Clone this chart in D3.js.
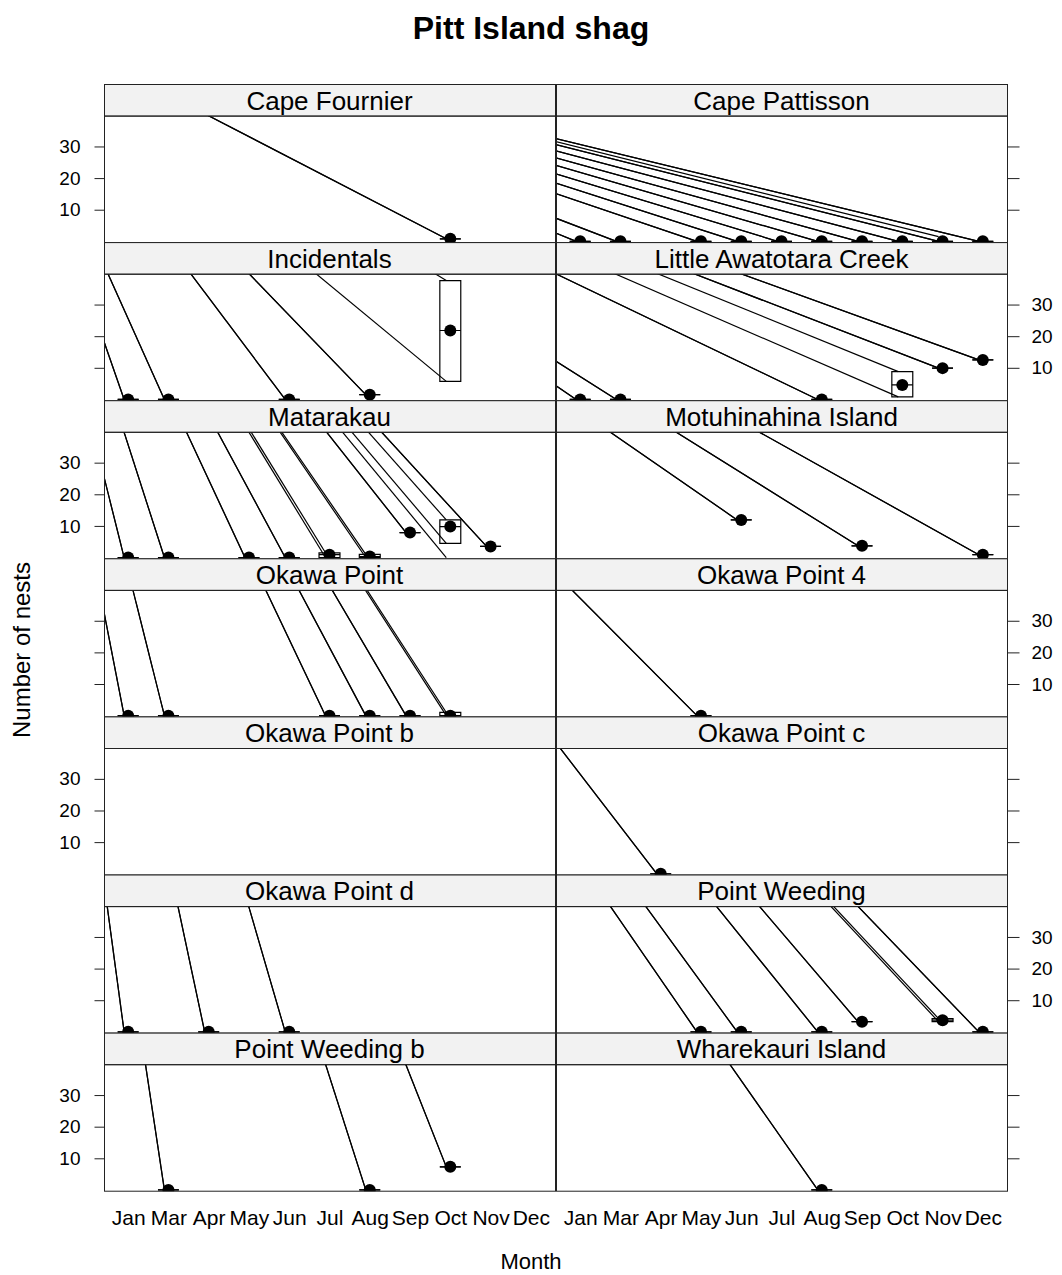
<!DOCTYPE html>
<html><head><meta charset="utf-8">
<script src="https://cdn.jsdelivr.net/npm/d3@7"></script>
<style>
body{margin:0;background:#fff}
svg{display:block}
text{font-family:"Liberation Sans",Arial,sans-serif;fill:#000}
</style>
</head><body>
<svg id="chart" width="1062" height="1275"></svg>
<script>
// ---------------- data ----------------
const months = ["Jan","Mar","Apr","May","Jun","Jul","Aug","Sep","Oct","Nov","Dec"];
const colonies = ["Cape Fournier","Cape Pattisson","Incidentals","Little Awatotara Creek",
  "Matarakau","Motuhinahina Island","Okawa Point","Okawa Point 4","Okawa Point b",
  "Okawa Point c","Okawa Point d","Point Weeding","Point Weeding b","Wharekauri Island"];
const yTicks = [10, 20, 30];

// one entry per observation (colony, month, mean nests, low, high)
const obsColony = [
  "Cape Fournier",
  "Cape Pattisson","Cape Pattisson","Cape Pattisson","Cape Pattisson","Cape Pattisson",
  "Cape Pattisson","Cape Pattisson","Cape Pattisson","Cape Pattisson","Cape Pattisson",
  "Incidentals","Incidentals","Incidentals","Incidentals","Incidentals",
  "Little Awatotara Creek","Little Awatotara Creek","Little Awatotara Creek",
  "Little Awatotara Creek","Little Awatotara Creek","Little Awatotara Creek",
  "Matarakau","Matarakau","Matarakau","Matarakau","Matarakau","Matarakau",
  "Matarakau","Matarakau","Matarakau",
  "Motuhinahina Island","Motuhinahina Island","Motuhinahina Island",
  "Okawa Point","Okawa Point","Okawa Point","Okawa Point","Okawa Point","Okawa Point",
  "Okawa Point 4",
  "Okawa Point c",
  "Okawa Point d","Okawa Point d","Okawa Point d",
  "Point Weeding","Point Weeding","Point Weeding","Point Weeding","Point Weeding","Point Weeding",
  "Point Weeding b","Point Weeding b","Point Weeding b",
  "Wharekauri Island"
];
const obsMonth = [
  "Oct",
  "Jan","Mar","May","Jun","Jul","Aug","Sep","Oct","Nov","Dec",
  "Jan","Mar","Jun","Aug","Oct",
  "Jan","Mar","Aug","Oct","Nov","Dec",
  "Jan","Mar","May","Jun","Jul","Aug","Sep","Oct","Nov",
  "Jun","Sep","Dec",
  "Jan","Mar","Jul","Aug","Sep","Oct",
  "May",
  "Apr",
  "Jan","Apr","Jun",
  "May","Jun","Aug","Sep","Nov","Dec",
  "Mar","Aug","Oct",
  "Aug"
];
const obsNests = [
  0.8,
  0,0,0,0,0,0,0,0,0,0,
  0,0,0,1.5,21.8,
  0,0,0,4.6,9.9,12.5,
  0,0,0,0,0.9,0.3,7.9,9.8,3.5,
  11.9,3.7,0.9,
  0,0,0,0,0,0,
  0,
  0,
  0,0,0,
  0,0,0,3.2,3.7,0,
  0,0,7.3,
  0
];
const obsLow = [
  0.8,
  0,0,0,0,0,0,0,0,0,0,
  0,0,0,1.5,5.7,
  0,0,0,0.8,9.9,12.5,
  0,0,0,0,0,0,7.9,4.5,3.5,
  11.9,3.7,0.9,
  0,0,0,0,0,0,
  0,
  0,
  0,0,0,
  0,0,0,3.2,3.2,0,
  0,0,7.3,
  0
];
const obsHigh = [
  0.8,
  0,0,0,0,0,0,0,0,0,0,
  0,0,0,1.5,37.6,
  0,0,0,8.8,9.9,12.5,
  0,0,0,0,1.5,1,7.9,11.9,3.5,
  11.9,3.7,0.9,
  0,0,0,0,0,1,
  0,
  0,
  0,0,0,
  0,0,0,3.2,4.2,0,
  0,0,7.3,
  0
];
// extra leader lines seen in the picture without their own marker
const extraLeadColony = ["Cape Pattisson", "Matarakau"];
const extraLeadMonth = ["Nov", "Oct"];
const extraLeadNests = [1.5, 0];

// ---------------- layout ----------------
const colX0 = [104, 556], panelW = 451;
const rowTop0 = 84.5, rowH = 158.1, stripH = 31.6;
const leaderOrigin = [-15, 0];     // page point the leader lines run from
const leadOffset = 0.1;            // leader lines end just left of the month
const boxHalf = 0.26;              // half width of range boxes (month units)

const svg = d3.select("#chart");
svg.append("rect").attr("width",1062).attr("height",1275).attr("fill","#fff");

svg.append("text").attr("x",531).attr("y",39).attr("text-anchor","middle")
  .attr("font-weight","bold").attr("font-size",32).text("Pitt Island shag");

const monthIndex = m => months.indexOf(m) + 1;
const defs = svg.append("defs");

colonies.forEach((name, i) => {
  const r = Math.floor(i / 2), c = i % 2;
  const x0 = colX0[c], x1 = x0 + panelW;
  const st = rowTop0 + r * rowH, pt = st + stripH, pb = st + rowH;
  const xs = d3.scaleLinear().domain([0.4, 11.6]).range([x0, x1]);
  const ys = d3.scaleLinear().domain([-0.4, 39.6]).range([pb, pt]);

  // strip
  svg.append("rect").attr("x", x0 + 0.5).attr("y", st).attr("width", panelW).attr("height", stripH)
    .attr("fill", "#f2f2f2").attr("stroke", "#222").attr("stroke-width", 1);
  svg.append("text").attr("x", (x0 + x1) / 2).attr("y", st + stripH - 6.5)
    .attr("text-anchor", "middle").attr("font-size", 26).text(name);

  // clip
  const cid = "clip" + i;
  defs.append("clipPath").attr("id", cid).append("rect")
    .attr("x", x0 + 0.5).attr("y", pt).attr("width", panelW).attr("height", pb - pt);
  const g = svg.append("g").attr("clip-path", `url(#${cid})`);

  const idx = d3.range(obsColony.length).filter(k => obsColony[k] === name);
  const lead = (m, v) => g.append("line")
    .attr("x1", leaderOrigin[0]).attr("y1", leaderOrigin[1])
    .attr("x2", xs(monthIndex(m) - leadOffset)).attr("y2", ys(v))
    .attr("stroke", "#000").attr("stroke-width", 1.2);

  // leader lines (to low and high)
  idx.forEach(k => { lead(obsMonth[k], obsLow[k]); lead(obsMonth[k], obsHigh[k]); });
  d3.range(extraLeadColony.length).filter(k => extraLeadColony[k] === name)
    .forEach(k => lead(extraLeadMonth[k], extraLeadNests[k]));

  // range boxes with mean bar
  idx.forEach(k => {
    const m = monthIndex(obsMonth[k]);
    const bx0 = xs(m - boxHalf), bx1 = xs(m + boxHalf), by0 = ys(obsHigh[k]), by1 = ys(obsLow[k]);
    g.append("path").attr("d", `M${bx0},${by0}H${bx1}V${by1}H${bx0}Z`)
      .attr("fill", "none").attr("stroke", "#000").attr("stroke-width", 1.2);
    g.append("line").attr("x1", bx0).attr("x2", bx1)
      .attr("y1", ys(obsNests[k])).attr("y2", ys(obsNests[k]))
      .attr("stroke", "#000").attr("stroke-width", 1.2);
  });
  // points
  idx.forEach(k => {
    g.append("circle").attr("cx", xs(monthIndex(obsMonth[k]))).attr("cy", ys(obsNests[k]))
      .attr("r", 6).attr("fill", "#000");
  });

  // panel border
  svg.append("rect").attr("x", x0 + 0.5).attr("y", pt).attr("width", panelW).attr("height", pb - pt)
    .attr("fill", "none").attr("stroke", "#222").attr("stroke-width", 1);

  // y axes (alternating)
  const labelled = (c === 0 && r % 2 === 0) || (c === 1 && r % 2 === 1);
  if (c === 0) {
    const ax = d3.axisLeft(ys).tickValues(yTicks).tickSize(10).tickPadding(14)
      .tickFormat(labelled ? d3.format("d") : () => "");
    const ag = svg.append("g").attr("transform", `translate(${x0 + 0.5},0)`).call(ax);
    ag.select(".domain").remove();
    ag.selectAll("line").attr("stroke", "#222");
    ag.selectAll("text").attr("font-size", 19).attr("font-family", "Liberation Sans, Arial, sans-serif");
  } else {
    const ax = d3.axisRight(ys).tickValues(yTicks).tickSize(12).tickPadding(12)
      .tickFormat(labelled ? d3.format("d") : () => "");
    const ag = svg.append("g").attr("transform", `translate(${x1 + 0.5},0)`).call(ax);
    ag.select(".domain").remove();
    ag.selectAll("line").attr("stroke", "#222");
    ag.selectAll("text").attr("font-size", 19).attr("font-family", "Liberation Sans, Arial, sans-serif");
  }

  // bottom month axis
  if (r === 6) {
    const ax = d3.axisBottom(xs).tickValues(d3.range(1, 12)).tickSize(0).tickPadding(19)
      .tickFormat(v => months[v - 1]);
    const ag = svg.append("g").attr("transform", `translate(0,${pb})`).call(ax);
    ag.select(".domain").remove();
    ag.selectAll("text").attr("font-size", 21).attr("font-family", "Liberation Sans, Arial, sans-serif");
  }
});

svg.append("text").attr("transform", "translate(30,650) rotate(-90)").attr("text-anchor", "middle")
  .attr("font-size", 24).text("Number of nests");
svg.append("text").attr("x", 531).attr("y", 1269).attr("text-anchor", "middle")
  .attr("font-size", 22).text("Month");
</script>
</body></html>
